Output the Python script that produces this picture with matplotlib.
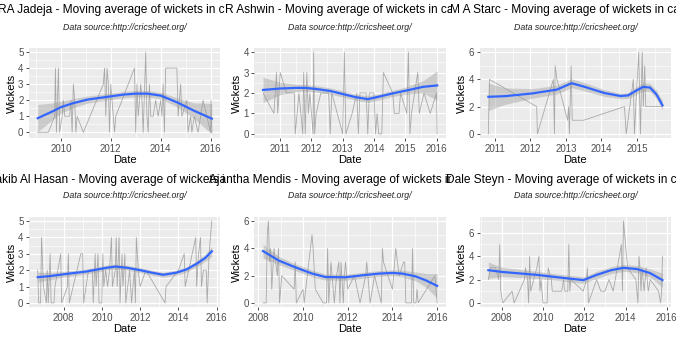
#! /usr/bin/env python3

import numpy as np
import matplotlib.pyplot as plt
from matplotlib.transforms import Bbox

plt.rcParams['font.family'] = ['Liberation Sans', 'DejaVu Sans']

SUBTITLE = "Data source:http://cricsheet.org/"

# --- RA Jadeja ---
jadeja_dates = [2009.07, 2009.5, 2009.75, 2009.78, 2009.82, 2009.9, 2009.95, 2010.05, 2010.1, 2010.15,
                2010.35, 2010.4, 2010.45, 2010.5, 2010.55, 2010.6, 2010.65, 2010.9, 2011.7, 2011.75,
                2011.8, 2011.85, 2011.9, 2011.95, 2012.0, 2012.1, 2012.15, 2012.2, 2012.95, 2013.0,
                2013.05, 2013.1, 2013.2, 2013.25, 2013.3, 2013.4, 2013.45, 2013.5, 2013.55, 2013.6,
                2013.7, 2013.8, 2013.9, 2014.0, 2014.05, 2014.1, 2014.15, 2014.2, 2014.65, 2014.7,
                2014.8, 2014.85, 2015.05, 2015.1, 2015.2, 2015.25, 2015.35, 2015.5, 2015.7, 2016.0,
                2016.02, 2016.05]
jadeja_wkts = [0, 0, 1, 4, 0, 4, 0, 1, 2, 1,
               1, 2, 0, 3, 2, 0, 1, 0, 3, 4,
               1, 4, 3, 0, 3, 1, 0, 1, 4, 0,
               3, 1, 3, 2, 0, 5, 1, 0, 3, 1,
               1, 2, 1, 2, 1, 3, 0, 4, 4, 1,
               3, 1, 2, 0, 1, 0, 1, 0, 2, 0,
               2, 0]
jadeja_sx = [2009.07, 2009.7, 2010.0, 2010.5, 2011.07, 2012.0, 2012.5, 2013.0, 2013.47, 2014.0,
             2014.67, 2015.33, 2016.05]
jadeja_sy = [0.88, 1.33, 1.57, 1.82, 2.04, 2.24, 2.35, 2.41, 2.41, 2.29, 1.86, 1.35, 0.85]
jadeja_se = [0.85, 0.5, 0.38, 0.28, 0.22, 0.2, 0.2, 0.2, 0.2, 0.2, 0.28, 0.48, 0.95]

# --- R Ashwin ---
ashwin_dates = [2010.45, 2010.8, 2010.88, 2010.92, 2011.0, 2011.2, 2011.45, 2011.48, 2011.6, 2011.72,
                2011.75, 2011.8, 2011.85, 2011.9, 2011.95, 2012.05, 2012.07, 2012.1, 2012.15, 2012.3,
                2012.55, 2012.6, 2012.65, 2013.0, 2013.05, 2013.1, 2013.3, 2013.45, 2013.5, 2013.55,
                2013.75, 2013.8, 2013.85, 2014.0, 2014.05, 2014.1, 2014.15, 2014.25, 2014.3, 2014.6,
                2014.65, 2014.8, 2014.85, 2015.05, 2015.1, 2015.15, 2015.2, 2015.4, 2015.45, 2015.6,
                2015.8, 2016.0, 2016.02]
ashwin_wkts = [2, 1, 3, 1, 3, 2, 2, 0, 2, 0,
               3, 0, 3, 1, 2, 0, 4, 0, 1, 2,
               2, 0, 2, 0, 4, 0, 1, 2, 0, 2,
               2, 0, 2, 2, 0, 1, 0, 0, 3, 2,
               1, 1, 2, 1, 4, 0, 1, 3, 1, 2,
               1, 2, 0]
ashwin_sx = [2010.45, 2011.0, 2011.5, 2011.8, 2012.13, 2012.6, 2013.0, 2013.4, 2013.8, 2014.1,
             2014.6, 2015.03, 2015.57, 2016.02]
ashwin_sy = [2.15, 2.22, 2.25, 2.25, 2.2, 2.1, 1.95, 1.8, 1.7, 1.8, 1.98, 2.12, 2.3, 2.37]
ashwin_se = [0.62, 0.3, 0.18, 0.16, 0.16, 0.15, 0.15, 0.15, 0.16, 0.15, 0.15, 0.18, 0.3, 0.72]

# --- M A Starc ---
starc_dates = [2010.82, 2010.85, 2012.18, 2012.2, 2012.65, 2012.68, 2012.7, 2012.75, 2013.05, 2013.08,
               2013.1, 2013.15, 2013.18, 2013.5, 2014.65, 2014.7, 2014.9, 2014.93, 2015.05, 2015.1,
               2015.15, 2015.18, 2015.22, 2015.25, 2015.72]
starc_wkts = [0, 4, 2, 0, 4, 0, 5, 4, 1, 2,
              0, 5, 1, 1, 2, 0, 4, 0, 6, 0,
              6, 2, 5, 2, 2]
starc_sx = [2010.82, 2011.3, 2012.06, 2012.75, 2013.16, 2013.53, 2014.08, 2014.54, 2014.75, 2015.0,
            2015.18, 2015.37, 2015.55, 2015.72]
starc_sy = [2.72, 2.77, 2.97, 3.25, 3.72, 3.45, 3.0, 2.78, 2.82, 3.2, 3.45, 3.4, 2.9, 2.1]
starc_se = [1.0, 0.6, 0.35, 0.32, 0.32, 0.3, 0.25, 0.2, 0.22, 0.28, 0.3, 0.3, 0.3, 0.35]

# --- Shakib Al Hasan ---
shakib_dates = [2006.65, 2006.7, 2006.8, 2006.85, 2006.95, 2007.1, 2007.15, 2007.2, 2007.3, 2007.35,
                2007.5, 2007.55, 2007.7, 2007.85, 2007.9, 2008.2, 2008.25, 2008.3, 2008.7, 2008.9,
                2009.0, 2009.05, 2009.3, 2009.5, 2009.55, 2009.65, 2009.7, 2009.8, 2009.85, 2010.0,
                2010.05, 2010.1, 2010.2, 2010.3, 2010.4, 2010.5, 2010.55, 2010.7, 2010.75, 2010.8,
                2010.9, 2010.95, 2011.05, 2011.1, 2011.2, 2011.25, 2011.45, 2011.5, 2011.55, 2011.7,
                2011.75, 2011.8, 2011.9, 2012.0, 2012.3, 2013.3, 2013.35, 2014.0, 2014.3, 2014.35,
                2014.9, 2014.95, 2015.05, 2015.15, 2015.2, 2015.3, 2015.45, 2015.5, 2015.6, 2015.74]
shakib_wkts = [2, 0, 0, 4, 1, 0, 2, 0, 3, 0,
               0, 1, 2, 3, 0, 1, 3, 0, 2, 3,
               3, 0, 2, 2, 0, 3, 1, 3, 0, 0,
               3, 1, 2, 1, 2, 4, 1, 2, 4, 1,
               4, 0, 3, 1, 3, 0, 2, 1, 0, 2,
               0, 4, 2, 1, 2, 0, 1, 2, 3, 1,
               4, 1, 3, 4, 1, 2, 2, 0, 3, 5]
shakib_sx = [2006.65, 2007.3, 2008.0, 2009.2, 2010.26, 2010.7, 2011.3, 2012.0, 2012.6, 2013.2,
             2013.9, 2014.43, 2014.96, 2015.4, 2015.74]
shakib_sy = [1.57, 1.64, 1.75, 1.92, 2.15, 2.22, 2.15, 2.0, 1.85, 1.72, 1.85, 2.05, 2.4, 2.75, 3.15]
shakib_se = [0.3, 0.22, 0.17, 0.15, 0.15, 0.15, 0.15, 0.15, 0.15, 0.15, 0.15, 0.16, 0.18, 0.22, 0.3]

# --- Ajantha Mendis ---
mendis_dates = [2008.21, 2008.35, 2008.4, 2008.45, 2008.5, 2008.55, 2008.6, 2008.7, 2008.85, 2008.9,
                2008.95, 2009.0, 2009.05, 2009.6, 2009.65, 2009.7, 2010.0, 2010.05, 2010.4, 2010.45,
                2010.55, 2010.9, 2011.05, 2011.1, 2011.15, 2011.25, 2011.4, 2011.5, 2011.6, 2011.65,
                2011.7, 2011.8, 2011.85, 2011.9, 2012.0, 2012.3, 2012.55, 2012.8, 2012.85, 2013.0,
                2013.2, 2013.5, 2013.55, 2013.6, 2014.0, 2014.15, 2014.3, 2014.5, 2014.55, 2014.6,
                2014.85, 2014.9, 2014.95, 2015.05, 2015.1, 2015.15, 2015.9, 2016.0]
mendis_wkts = [0, 0, 5, 6, 3, 4, 1, 4, 2, 4,
               0, 1, 2, 1, 3, 0, 1, 0, 5, 4,
               1, 0, 0, 4, 0, 3, 0, 2, 3, 0,
               3, 0, 2, 3, 1, 2, 0, 2, 3, 0,
               2, 0, 4, 3, 1, 4, 2, 3, 3, 0,
               0, 4, 0, 0, 1, 0, 2, 0]
mendis_sx = [2008.21, 2008.92, 2009.67, 2010.41, 2011.0, 2011.9, 2012.8, 2013.4, 2014.0, 2014.44,
             2015.03, 2015.5, 2016.0]
mendis_sy = [3.8, 3.1, 2.6, 2.15, 1.9, 1.88, 2.05, 2.15, 2.2, 2.15, 1.95, 1.65, 1.25]
mendis_se = [0.5, 0.3, 0.25, 0.25, 0.22, 0.22, 0.22, 0.22, 0.22, 0.25, 0.32, 0.5, 0.9]

# --- Dale Steyn ---
steyn_dates = [2007.35, 2007.45, 2007.7, 2007.85, 2007.9, 2007.95, 2008.05, 2008.5, 2008.6, 2009.1,
               2009.15, 2009.25, 2009.3, 2009.35, 2009.4, 2009.7, 2009.8, 2009.85, 2009.9, 2010.0,
               2010.2, 2010.25, 2010.4, 2010.45, 2010.9, 2011.0, 2011.05, 2011.2, 2011.25, 2011.3,
               2011.35, 2011.95, 2012.1, 2012.15, 2012.2, 2012.6, 2012.8, 2013.0, 2013.2, 2013.4,
               2013.8, 2013.85, 2013.9, 2014.1, 2014.5, 2014.6, 2014.65, 2014.7, 2014.75, 2014.8,
               2014.9, 2015.0, 2015.1, 2015.2, 2015.6, 2015.7, 2015.75, 2015.79]
steyn_wkts = [2, 3, 3, 2, 5, 1, 0, 1, 0, 2,
              3, 2, 0, 4, 1, 3, 4, 1, 2, 0,
              0, 3, 2, 1, 1, 2, 1, 1, 5, 1,
              2, 1, 2, 3, 0, 2, 1, 1, 2, 1,
              5, 1, 7, 3, 2, 0, 4, 3, 1, 3,
              1, 3, 1, 2, 1, 0, 1, 4]
steyn_sx = [2007.35, 2008.0, 2009.7, 2010.67, 2011.96, 2012.6, 2013.3, 2013.9, 2014.55, 2015.19,
            2015.79]
steyn_sy = [2.8, 2.65, 2.4, 2.2, 1.95, 2.4, 2.8, 3.0, 2.9, 2.55, 1.95]
steyn_se = [0.7, 0.4, 0.3, 0.28, 0.28, 0.3, 0.3, 0.3, 0.3, 0.35, 0.6]

panels = [
    ("RA Jadeja", jadeja_dates, jadeja_wkts, jadeja_sx, jadeja_sy, jadeja_se,
     [2010, 2012, 2014, 2016], [0, 1, 2, 3, 4, 5]),
    ("R Ashwin", ashwin_dates, ashwin_wkts, ashwin_sx, ashwin_sy, ashwin_se,
     [2011, 2012, 2013, 2014, 2015, 2016], [0, 1, 2, 3, 4]),
    ("M A Starc", starc_dates, starc_wkts, starc_sx, starc_sy, starc_se,
     [2011, 2012, 2013, 2014, 2015], [0, 2, 4, 6]),
    ("Shakib Al Hasan", shakib_dates, shakib_wkts, shakib_sx, shakib_sy, shakib_se,
     [2008, 2010, 2012, 2014, 2016], [0, 1, 2, 3, 4, 5]),
    ("Ajantha Mendis", mendis_dates, mendis_wkts, mendis_sx, mendis_sy, mendis_se,
     [2008, 2010, 2012, 2014, 2016], [0, 2, 4, 6]),
    ("Dale Steyn", steyn_dates, steyn_wkts, steyn_sx, steyn_sy, steyn_se,
     [2008, 2010, 2012, 2014, 2016], [0, 2, 4, 6]),
]

W, H = 676, 338
fig = plt.figure(figsize=(W / 100, H / 100), dpi=100)
colw = W / 3.0

for i, (name, d, w, sx, sy, se, xt, yt) in enumerate(panels):
    row, col = divmod(i, 3)
    x0 = col * colw
    top = row * 169
    left_px, right_px = x0 + 29, x0 + 220.5
    ax = fig.add_axes([left_px / W, (H - top - 138) / H, (right_px - left_px) / W, 90 / H])
    ax.set_facecolor('#EBEBEB')
    for s in ax.spines.values():
        s.set_visible(False)

    # raw wickets per match, then loess-style smooth with its band
    ax.plot(d, w, color='#8C8C8C', lw=0.6, alpha=0.7, zorder=2)
    sx, sy, se = np.array(sx), np.array(sy), np.array(se)
    ax.fill_between(sx, sy - se, sy + se, color='#999999', alpha=0.4, lw=0, zorder=3)
    ax.plot(sx, sy, color='#3366FF', lw=1.6, zorder=4)

    ax.set_xticks(xt)
    ax.set_yticks(yt)
    ax.set_xticklabels([str(v) for v in xt])
    xstep = xt[1] - xt[0]
    ystep = yt[1] - yt[0]
    ax.set_xticks([v + xstep / 2 for v in [xt[0] - xstep] + xt], minor=True)
    ax.set_yticks([v + ystep / 2 for v in [yt[0] - ystep] + yt], minor=True)
    ax.margins(0.05)
    xl, yl = ax.get_xlim(), ax.get_ylim()
    ax.set_xlim(xl)
    ax.set_ylim(yl)
    ax.grid(which='major', color='white', lw=0.9)
    ax.grid(which='minor', color='white', lw=0.45)
    ax.set_axisbelow(True)
    ax.tick_params(which='major', length=2.5, width=0.6, color='#333333',
                   labelsize=7, labelcolor='#4D4D4D', pad=1.5)
    ax.tick_params(which='minor', length=0)
    ax.set_xlabel("Date", fontsize=8, labelpad=1)
    ax.set_ylabel("Wickets", fontsize=8, labelpad=1)

    # title overflows its panel; the next panel's background hides the right part
    cx = (left_px + right_px) / 2 / W
    t = fig.text(cx, 1 - (top + 10.5) / H, name + " - Moving average of wickets in career",
                 ha='center', va='center', fontsize=8.6)
    t.set_clip_box(Bbox.from_extents(-1e4, -1e4, x0 + colw, 1e4))
    t.set_clip_on(True)
    fig.text(cx, 1 - (top + 27) / H, SUBTITLE, ha='center', va='center',
             fontsize=6.3, style='italic', color='#222222')

fig.savefig("out.png", dpi=100, facecolor='white')
